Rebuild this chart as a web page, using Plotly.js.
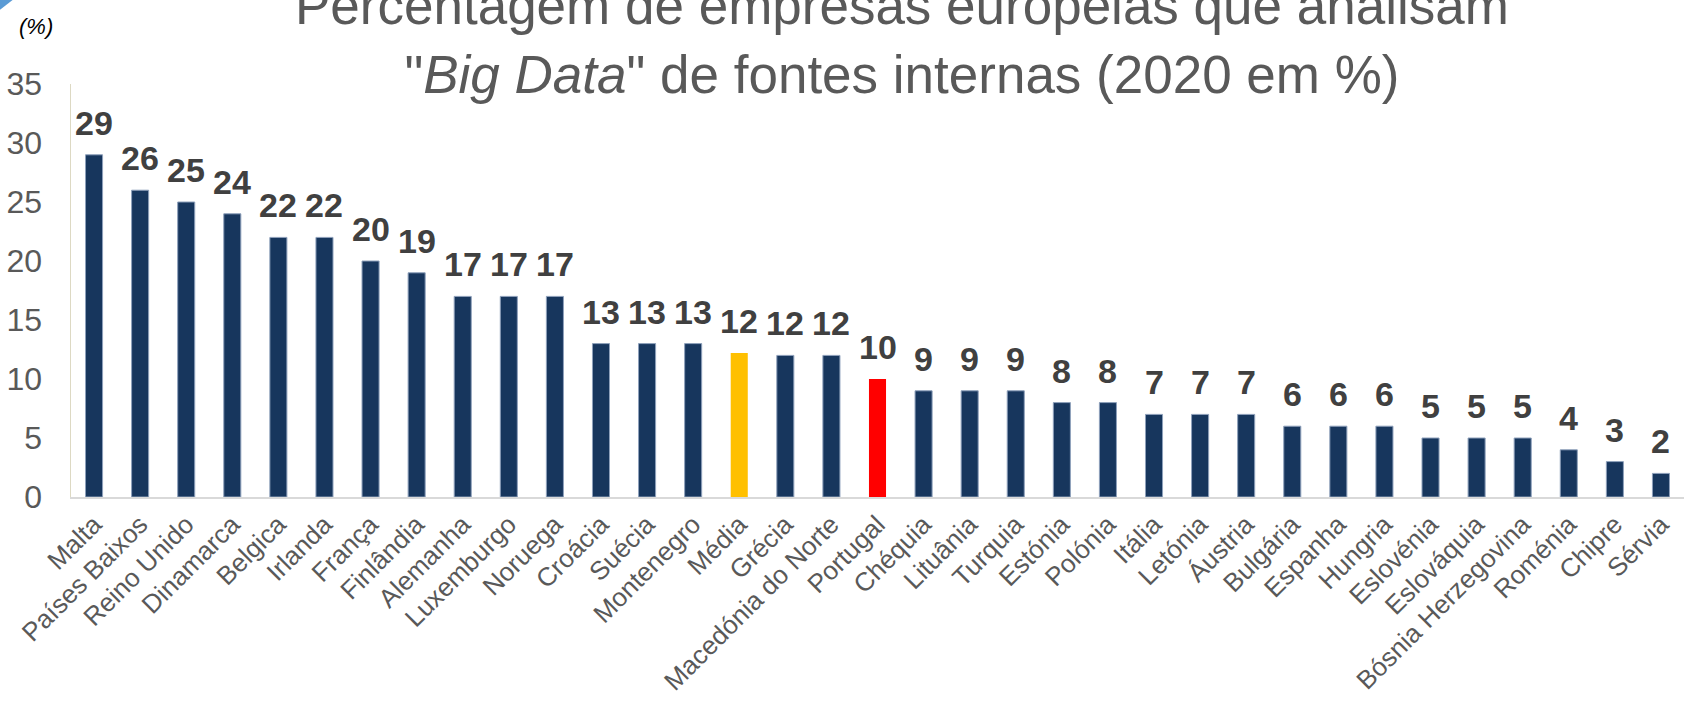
<!DOCTYPE html>
<html>
<head>
<meta charset="utf-8">
<script src="https://cdn.plot.ly/plotly-3.0.1.min.js"></script>
<style>html,body{margin:0;padding:0;background:#fff;}#chart{width:1705px;height:701px;}</style>
</head>
<body>
<div id="chart"></div>
<script>
const categories = ["Malta","Países Baixos","Reino Unido","Dinamarca","Belgica","Irlanda","França","Finlândia","Alemanha","Luxemburgo","Noruega","Croácia","Suécia","Montenegro","Média","Grécia","Macedónia do Norte","Portugal","Chéquia","Lituânia","Turquia","Estónia","Polónia","Itália","Letónia","Áustria","Bulgária","Espanha","Hungria","Eslovénia","Eslováquia","Bósnia Herzegovina","Roménia","Chipre","Sérvia"];
const values = [29,26,25,24,22,22,20,19,17,17,17,13,13,13,12.2,12,12,10,9,9,9,8,8,7,7,7,6,6,6,5,5,5,4,3,2];
const highlightAverage = "Média";
const highlightPortugal = "Portugal";
const yTicks = [0,5,10,15,20,25,30,35];

const FONT = "Liberation Sans, Arial, sans-serif";
const colors = categories.map(c => c === highlightAverage ? "#ffc000" : (c === highlightPortugal ? "#ff0000" : "#17365d"));
const lineColors = categories.map(c => (c === highlightAverage || c === highlightPortugal) ? "rgba(0,0,0,0)" : "#8ea0bb");

const trace = {
  type: "bar",
  x: categories,
  y: values,
  marker: {color: colors, line: {color: lineColors, width: 1}},
  hoverinfo: "x+y"
};

const labelAnnotations = categories.map((c, i) => ({
  x: c, y: values[i], xref: "x", yref: "y",
  text: String(Math.round(values[i])),
  showarrow: false, yanchor: "bottom", yshift: 11,
  font: {family: FONT, size: 34, color: "#404040", weight: "bold"}
}));

const layout = {
  width: 1705, height: 701,
  margin: {l: 71, r: 21, t: 84, b: 204},
  paper_bgcolor: "#ffffff", plot_bgcolor: "#ffffff",
  showlegend: false,
  bargap: 0.63,
  title: {
    text: "Percentagem de empresas europeias que analisam<br>\"<i>Big Data</i>\" de fontes internas (2020 em %)",
    font: {family: FONT, size: 53, color: "#595959"},
    x: 0.529, xanchor: "center", xref: "container",
    y: 0.966, yanchor: "bottom", yref: "container"
  },
  xaxis: {
    type: "category",
    tickangle: -45,
    tickfont: {family: FONT, size: 26, color: "#595959"},
    showline: true, linecolor: "#d9d9d9", linewidth: 2,
    ticks: "", showgrid: false, zeroline: false, fixedrange: true
  },
  yaxis: {
    range: [0, 35],
    tickvals: yTicks,
    tickfont: {family: FONT, size: 32, color: "#595959"},
    showline: true, linecolor: "#ddd9c3", linewidth: 1.5,
    ticks: "outside", ticklen: 21, tickcolor: "rgba(0,0,0,0)",
    showgrid: false, zeroline: false, fixedrange: true
  },
  annotations: labelAnnotations.concat([{
    xref: "paper", yref: "paper", x: -0.0335, y: 1.140,
    xanchor: "left", yanchor: "middle", showarrow: false,
    text: "<i>(%)</i>",
    font: {family: FONT, size: 22, color: "#000000"}
  }]),
  shapes: [{
    type: "path", xref: "paper", yref: "paper",
    path: "M -0.044 1.204 L -0.036 1.204 L -0.044 1.18 Z",
    fillcolor: "#5b9bd5", line: {width: 0}
  }]
};

Plotly.newPlot("chart", [trace], layout, {displayModeBar: false, staticPlot: true});
</script>
</body>
</html>
